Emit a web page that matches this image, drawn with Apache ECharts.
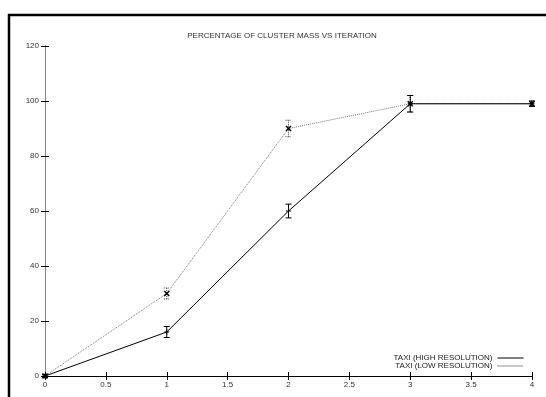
<!DOCTYPE html>
<html>
<head>
<meta charset="utf-8">
<script src="https://cdn.jsdelivr.net/npm/echarts@6/dist/echarts.min.js"></script>
<style>
  html, body { margin: 0; padding: 0; background: #fff; }
  #chart { width: 546px; height: 397px; }
</style>
</head>
<body>
<div id="chart"></div>
<script>
var iterations = [0, 1, 2, 3, 4]
var highRes = [0, 16, 60, 99, 99]
var highErr = [0.5, 2, 2.5, 3, 1]
var lowRes = [0, 30, 90, 99, 99]
var lowErr = [0.5, 2, 3, 3, 1]
var seriesNames = ['TAXI (HIGH RESOLUTION)', 'TAXI (LOW RESOLUTION)']
var titleText = 'PERCENTAGE OF CLUSTER MASS VS ITERATION'

var font = 'Liberation Sans, Arial, sans-serif'
var myChart = echarts.init(document.getElementById('chart'))

function pairs(ys) {
  return iterations.map(function (x, i) { return [x, ys[i]] })
}
function errRows(ys, es) {
  return iterations.map(function (x, i) { return [x, ys[i], es[i]] })
}

// error bars + small markers
function errRender(color, dashed, marker) {
  return function (params, api) {
    var x = api.value(0), y = api.value(1), e = api.value(2)
    var c = api.coord([x, y])
    var lo = api.coord([x, y - e])
    var hi = api.coord([x, y + e])
    var st = { stroke: color, lineWidth: 1, lineDash: dashed ? [1, 1] : null }
    var w = 3
    var kids = [
      { type: 'line', shape: { x1: c[0], y1: lo[1], x2: c[0], y2: hi[1] }, style: st },
      { type: 'line', shape: { x1: c[0] - w, y1: lo[1], x2: c[0] + w, y2: lo[1] }, style: st },
      { type: 'line', shape: { x1: c[0] - w, y1: hi[1], x2: c[0] + w, y2: hi[1] }, style: st }
    ]
    var m = 2.5
    var ms = { stroke: '#000', lineWidth: marker === 'x' ? 1.5 : 1 }
    if (marker === 'x') {
      kids.push({ type: 'line', shape: { x1: c[0] - m, y1: c[1] - m, x2: c[0] + m, y2: c[1] + m }, style: ms })
      kids.push({ type: 'line', shape: { x1: c[0] - m, y1: c[1] + m, x2: c[0] + m, y2: c[1] - m }, style: ms })
    } else {
      kids.push({ type: 'line', shape: { x1: c[0] - m, y1: c[1], x2: c[0] + m, y2: c[1] }, style: ms })
      kids.push({ type: 'line', shape: { x1: c[0], y1: c[1] - m, x2: c[0], y2: c[1] + m }, style: ms })
    }
    return { type: 'group', children: kids }
  }
}

var axisText = { color: '#333', fontSize: 8, fontFamily: font }

function legendAt(name, top, line) {
  return {
    data: [{ name: name, lineStyle: line }],
    right: 22,
    top: top,
    align: 'right',
    itemWidth: 26,
    itemHeight: 8,
    itemGap: 4,
    padding: 0,
    itemStyle: { opacity: 0 },
    textStyle: { fontSize: 8, color: '#222', fontFamily: font }
  }
}

var option = {
  animation: false,
  title: {
    text: titleText,
    left: 277,
    top: 27,
    textAlign: 'center',
    textStyle: { fontSize: 8, fontWeight: 'normal', color: '#333', fontFamily: font }
  },
  legend: [
    legendAt(seriesNames[0], 354, { color: '#000', width: 1, type: 'solid' }),
    legendAt(seriesNames[1], 362, { color: '#222', width: 1, type: [1, 1] })
  ],
  graphic: [{
    type: 'rect',
    shape: { x: 9, y: 15, width: 700, height: 500 },
    style: { fill: 'none', stroke: '#000', lineWidth: 2.5 },
    silent: true
  }],
  grid: { left: 45, right: 14, top: 46, bottom: 21 },
  xAxis: [{
    type: 'value', min: 0, max: 4, interval: 0.5, position: 'bottom',
    axisLine: { lineStyle: { color: '#000', width: 1 } },
    axisTick: { inside: true, length: 4, lineStyle: { color: '#000' } },
    axisLabel: Object.assign({ margin: 5 }, axisText),
    splitLine: { show: false }
  }, {
    type: 'value', min: 0, max: 4, interval: 0.5, position: 'top',
    axisLine: { lineStyle: { color: '#000', width: 1 } },
    axisTick: { inside: true, length: 4, lineStyle: { color: '#000' } },
    axisLabel: { show: false },
    splitLine: { show: false }
  }],
  yAxis: [{
    type: 'value', min: 0, max: 120, interval: 20, position: 'left',
    axisLine: { show: true, lineStyle: { color: '#555', width: 1 } },
    axisTick: { show: true, inside: true, length: 4, lineStyle: { color: '#000' } },
    axisLabel: Object.assign({ margin: 6 }, axisText),
    splitLine: { show: false }
  }, {
    type: 'value', min: 0, max: 120, interval: 20, position: 'right',
    axisLine: { show: true, lineStyle: { color: '#888', width: 1 } },
    axisTick: { show: true, inside: true, length: 4, lineStyle: { color: '#000' } },
    axisLabel: { show: false },
    splitLine: { show: false }
  }],
  series: [
    {
      name: seriesNames[1],
      type: 'line',
      data: pairs(lowRes),
      symbol: 'none',
      lineStyle: { color: '#777', width: 1, type: [1, 1] },
      itemStyle: { color: '#777' },
      z: 2
    },
    {
      name: seriesNames[0],
      type: 'line',
      data: pairs(highRes),
      symbol: 'none',
      lineStyle: { color: '#000', width: 1 },
      itemStyle: { color: '#000' },
      z: 3
    },
    {
      type: 'custom',
      data: errRows(lowRes, lowErr),
      renderItem: errRender('#444', true, 'x'),
      z: 4
    },
    {
      type: 'custom',
      data: errRows(highRes, highErr),
      renderItem: errRender('#000', false, '+'),
      z: 5
    }
  ]
}
myChart.setOption(option)
</script>
</body>
</html>
